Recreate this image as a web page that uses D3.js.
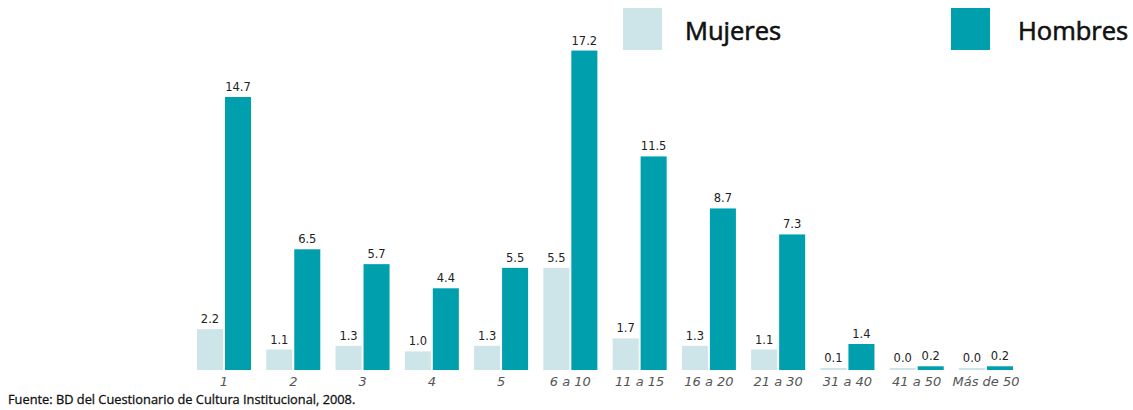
<!DOCTYPE html>
<html><head><meta charset="utf-8">
<script src="https://cdn.jsdelivr.net/npm/d3@7"></script>
<style>body{margin:0;background:#fff;}svg{display:block;}</style>
</head><body>
<script>
const categories = ["1","2","3","4","5","6 a 10","11 a 15","16 a 20","21 a 30","31 a 40","41 a 50","Más de 50"];
const series = ["Mujeres","Hombres"];
const mujeres = [2.2,1.1,1.3,1.0,1.3,5.5,1.7,1.3,1.1,0.1,0.0,0.0];
const hombres = [14.7,6.5,5.7,4.4,5.5,17.2,11.5,8.7,7.3,1.4,0.2,0.2];
const colors = ["#cde4e8","#009fae"];
const source = "Fuente: BD del Cuestionario de Cultura Institucional, 2008.";

const W=1133,H=410;
const svg=d3.select("body").append("svg").attr("width",W).attr("height",H);
const x=d3.scaleBand().domain(categories).range([197,1013]).paddingInner(0.22).paddingOuter(0);
const xs=d3.scaleBand().domain(series).range([0,x.bandwidth()]).paddingInner(0.07);
const y=d3.scaleLinear().domain([0,14.7]).range([370,97]);
const color=d3.scaleOrdinal().domain(series).range(colors);

const data=categories.map((c,i)=>({cat:c,vals:[{s:"Mujeres",v:mujeres[i]},{s:"Hombres",v:hombres[i]}]}));
const g=svg.selectAll("g.grp").data(data).join("g").attr("class","grp").attr("transform",d=>`translate(${x(d.cat)},0)`);
g.selectAll("rect").data(d=>d.vals).join("rect")
 .attr("x",d=>xs(d.s)).attr("width",xs.bandwidth())
 .attr("y",d=>Math.min(y(d.v),y(0)-2)).attr("height",d=>Math.max(y(0)-y(d.v),2))
 .attr("fill",d=>color(d.s));
g.selectAll("text.val").data(d=>d.vals).join("text").attr("class","val")
 .attr("x",d=>xs(d.s)+xs.bandwidth()/2).attr("y",d=>Math.min(y(d.v),y(0)-2)-6)
 .attr("text-anchor","middle").attr("font-family","DejaVu Sans").attr("font-size",11.5).attr("fill","#222")
 .text(d=>d.v.toFixed(1));

const ax=svg.append("g").attr("transform","translate(0,370)").call(d3.axisBottom(x).tickSize(0).tickPadding(7));
ax.select(".domain").remove();
ax.selectAll("text").attr("font-family","DejaVu Sans").attr("font-style","italic").attr("font-size",13).attr("fill","#555");

const leg=[{s:"Mujeres",x:623,tx:685},{s:"Hombres",x:951,tx:1018}];
const lg=svg.selectAll("g.leg").data(leg).join("g").attr("class","leg");
lg.append("rect").attr("x",d=>d.x).attr("y",8).attr("width",39).attr("height",42).attr("fill",d=>color(d.s));
lg.append("text").attr("x",d=>d.tx).attr("y",40).attr("font-family","Open Sans").attr("font-size",25.5)
 .attr("fill","#111").attr("stroke","#111").attr("stroke-width",0.6).text(d=>d.s);

svg.append("text").attr("x",8).attr("y",404).attr("font-family","Open Sans").attr("font-size",12.8)
 .attr("fill","#111").attr("stroke","#111").attr("stroke-width",0.3).text(source);
</script>
</body></html>
